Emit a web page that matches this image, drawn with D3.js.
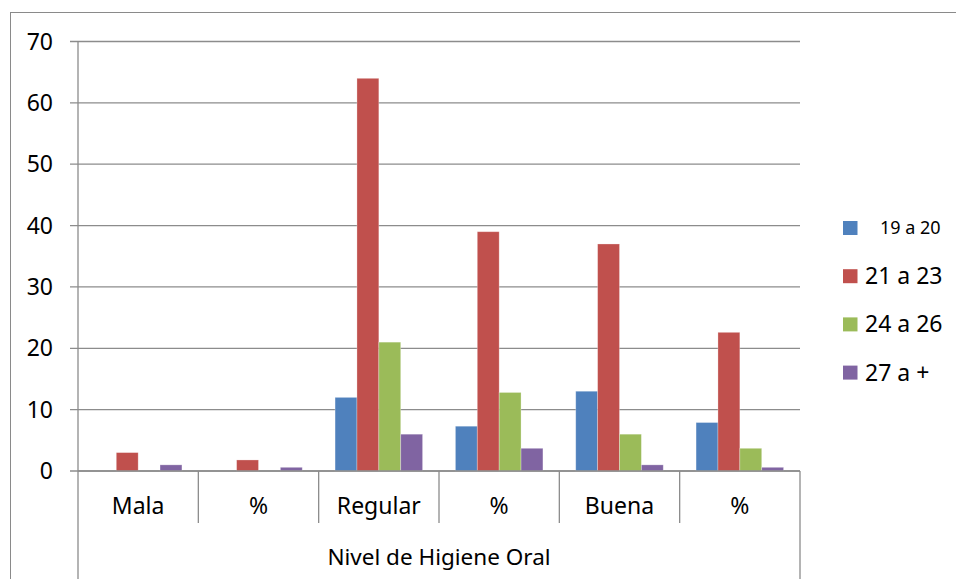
<!DOCTYPE html>
<html>
<head>
<meta charset="utf-8">
<script src="https://cdn.jsdelivr.net/npm/d3@7"></script>
<style>
  body { margin: 0; background: #fff; }
  svg { display: block; font-family: 'Noto Sans', sans-serif; }
</style>
</head>
<body>
<div class="chart"></div>
<script>
//
// DATA
//
const categories = ['Mala', '%', 'Regular', '%', 'Buena', '%']
const groupLabel = 'Nivel de Higiene Oral'
const seriesNames = ['19 a 20', '21 a 23', '24 a 26', '27 a +']
const s19a20 = [0, 0, 12, 7.3, 13, 7.9]
const s21a23 = [3, 1.8, 64, 39.0, 37, 22.6]
const s24a26 = [0, 0, 21, 12.8, 6, 3.7]
const s27mas = [1, 0.6, 6, 3.7, 1, 0.6]
const yTicks = [0, 10, 20, 30, 40, 50, 60, 70]

//
// GLOBALS
//
const width = 956
const height = 579
const colors = ['#4F81BD', '#C0504D', '#9BBB59', '#8064A2']
const gridColor = '#8c8c8c'
const plot = { left: 78, right: 800, top: 41.5, bottom: 471 }

const seriesValues = [s19a20, s21a23, s24a26, s27mas]

const svg = d3.select('.chart')
    .append('svg')
    .attr('width', width)
    .attr('height', height)

// outer chart border (runs off the bottom/right of the picture)
svg.append('rect')
    .attr('x', 10.5).attr('y', 12.5)
    .attr('width', 1000).attr('height', 1000)
    .attr('fill', 'none')
    .attr('stroke', '#8a8a8a')
    .attr('stroke-width', 1)

// scales
const x0 = d3.scaleBand()
    .domain(d3.range(categories.length))
    .range([plot.left, plot.right])
const x1 = d3.scaleBand()
    .domain(seriesNames)
    .range([0, x0.bandwidth()])
    .paddingOuter(0.75)
const y = d3.scaleLinear()
    .domain([0, 70])
    .range([plot.bottom, plot.top])

// gridlines + y labels
const yAxis = svg.append('g').attr('class', 'y-axis')
yAxis.selectAll('line.grid')
    .data(yTicks)
    .join('line')
    .attr('class', 'grid')
    .attr('x1', plot.left - 8)
    .attr('x2', plot.right)
    .attr('y1', d => y(d))
    .attr('y2', d => y(d))
    .attr('stroke', gridColor)
    .attr('stroke-width', 1.3)
yAxis.selectAll('text')
    .data(yTicks)
    .join('text')
    .attr('x', 53)
    .attr('y', d => y(d))
    .attr('dy', '0.35em')
    .attr('text-anchor', 'end')
    .style('font-size', '23px')
    .attr('fill', '#000')
    .text(d => d)

// bars
const groups = svg.append('g').attr('class', 'bars')
    .selectAll('g')
    .data(categories.map((c, i) => ({ i, vals: seriesValues.map((s, k) => ({ k, v: s[i] })) })))
    .join('g')
    .attr('transform', d => `translate(${x0(d.i)},0)`)
groups.selectAll('rect')
    .data(d => d.vals.filter(e => e.v > 0))
    .join('rect')
    .attr('x', e => x1(seriesNames[e.k]))
    .attr('width', x1.bandwidth())
    .attr('y', e => y(e.v))
    .attr('height', e => y(0) - y(e.v))
    .attr('fill', e => colors[e.k])
    .attr('stroke', '#fff')
    .attr('stroke-opacity', 0.35)
    .attr('stroke-width', 0.8)

// category axis: baseline, separators, labels
const xAxis = svg.append('g').attr('class', 'x-axis')
xAxis.append('line')
    .attr('x1', plot.left).attr('x2', plot.right)
    .attr('y1', plot.bottom).attr('y2', plot.bottom)
    .attr('stroke', gridColor).attr('stroke-width', 1.3)
// y axis line, which also runs down through the group label box
xAxis.append('line')
    .attr('x1', plot.left).attr('x2', plot.left)
    .attr('y1', plot.top).attr('y2', height)
    .attr('stroke', gridColor).attr('stroke-width', 1.3)
xAxis.append('line')
    .attr('x1', plot.right).attr('x2', plot.right)
    .attr('y1', plot.bottom).attr('y2', height)
    .attr('stroke', gridColor).attr('stroke-width', 1.3)
xAxis.selectAll('line.sep')
    .data(d3.range(1, categories.length))
    .join('line')
    .attr('class', 'sep')
    .attr('x1', d => x0(d)).attr('x2', d => x0(d))
    .attr('y1', plot.bottom).attr('y2', 523)
    .attr('stroke', gridColor).attr('stroke-width', 1.3)
xAxis.selectAll('text.cat')
    .data(categories)
    .join('text')
    .attr('class', 'cat')
    .attr('x', (d, i) => x0(i) + x0.bandwidth() / 2)
    .attr('y', 506)
    .attr('dy', '0.35em')
    .attr('text-anchor', 'middle')
    .style('font-size', '23px')
    .text(d => d)
xAxis.append('text')
    .attr('x', (plot.left + plot.right) / 2)
    .attr('y', 557)
    .attr('dy', '0.35em')
    .attr('text-anchor', 'middle')
    .style('font-size', '22.5px')
    .text(groupLabel)

// legend
const legend = svg.append('g').attr('class', 'legend')
const items = legend.selectAll('g')
    .data(seriesNames)
    .join('g')
    .attr('transform', (d, i) => `translate(843,${228 + i * 48.2})`)
items.append('rect')
    .attr('x', 0).attr('y', -7)
    .attr('width', 14.5).attr('height', 14)
    .attr('fill', (d, i) => colors[i])
items.append('text')
    .attr('x', (d, i) => i === 0 ? 37 : 22)
    .attr('y', 0)
    .attr('dy', '0.35em')
    .style('font-size', (d, i) => i === 0 ? '18px' : '23px')
    .text(d => d)
</script>
</body>
</html>
